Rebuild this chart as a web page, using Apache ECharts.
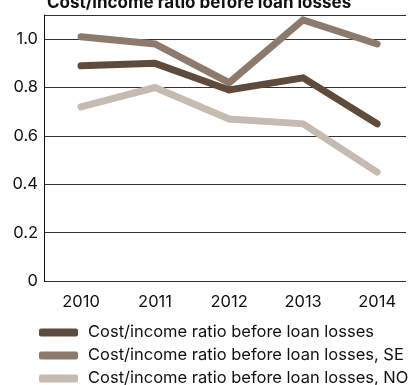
<!DOCTYPE html>
<html>
<head>
<meta charset="utf-8">
<script src="https://cdn.jsdelivr.net/npm/echarts@6/dist/echarts.min.js"></script>
<style>
  html, body { margin: 0; padding: 0; background: #fff; }
  #graf { width: 417px; height: 385px; }
</style>
</head>
<body>
<div id="graf"></div>
<script>
// datos
var years = [2010, 2011, 2012, 2013, 2014];
var total = [0.89, 0.90, 0.79, 0.84, 0.65];
var se = [1.01, 0.98, 0.82, 1.08, 0.98];
var no = [0.72, 0.80, 0.67, 0.65, 0.45];
var yTicks = [0, 0.2, 0.4, 0.6, 0.8, 1.0];
var names = [
  'Cost/income ratio before loan losses',
  'Cost/income ratio before loan losses, SE',
  'Cost/income ratio before loan losses, NO'
];
var colors = ['#5f4b3b', '#8c7b6d', '#c6bbb0'];
var legendTops = [324, 347, 370];

function pairs(vals) {
  return years.map(function (y, i) { return [y, vals[i]]; });
}

var myChart = echarts.init(document.getElementById('graf'));

var option = {
  animation: false,
  textStyle: { fontFamily: 'Inter', color: '#111' },
  title: {
    text: 'Cost/income ratio before loan losses',
    left: 42,
    top: -11,
    textStyle: { fontSize: 17, fontWeight: 'bold', color: '#111', fontFamily: 'Inter' }
  },
  // una leyenda por serie para que no se parta en columnas
  legend: names.map(function (n, i) {
    return {
      orient: 'vertical',
      left: 39,
      top: legendTops[i],
      padding: 0,
      itemWidth: 39,
      itemHeight: 8,
      icon: 'roundRect',
      textStyle: { fontSize: 16.5, color: '#111', padding: [0, 0, 0, 5] },
      data: [n]
    };
  }),
  grid: { left: 44, right: 11, top: 15, bottom: 104 },
  xAxis: {
    type: 'value',
    min: 2009.5,
    max: 2014.39,
    splitLine: { show: false },
    axisLine: { show: false },
    axisTick: { show: false },
    axisLabel: {
      customValues: years,
      fontSize: 16.5,
      color: '#111',
      margin: 13,
      formatter: function (v) { return String(v); }
    }
  },
  yAxis: {
    type: 'value',
    min: 0,
    max: 1.1,
    interval: 0.2,
    axisLine: { show: true, lineStyle: { color: '#111', width: 1 } },
    axisTick: { show: false },
    splitLine: { lineStyle: { color: '#333', width: 1 } },
    axisLabel: {
      customValues: yTicks,
      fontSize: 16.5,
      color: '#111',
      margin: 6,
      formatter: function (v) { return v === 0 ? '0' : v.toFixed(1); }
    }
  },
  series: [
    { name: names[0], data: pairs(total) },
    { name: names[1], data: pairs(se) },
    { name: names[2], data: pairs(no) }
  ].map(function (s, i) {
    return {
      name: s.name,
      type: 'line',
      data: s.data,
      symbol: 'none',
      color: colors[i],
      z: 3 - i,
      lineStyle: { width: 7, color: colors[i], cap: 'round', join: 'miter' }
    };
  })
};

myChart.setOption(option);
</script>
</body>
</html>
